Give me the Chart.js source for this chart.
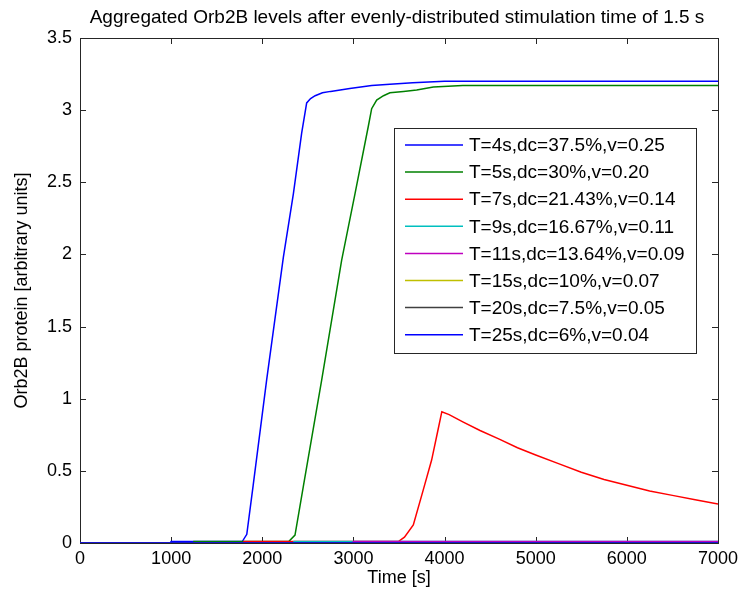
<!DOCTYPE html>
<html>
<head>
<meta charset="utf-8">
<script src="https://cdn.jsdelivr.net/npm/chart.js@4/dist/chart.umd.min.js"></script>
<style>
    body { margin: 0; background: #fff; }
    #orbChart { display: block; }
</style>
</head>
<body>
<canvas id="orbChart" width="738" height="597"></canvas>
<script>
// values
const seriesLabels = [
    "T=4s,dc=37.5%,v=0.25",
    "T=5s,dc=30%,v=0.20",
    "T=7s,dc=21.43%,v=0.14",
    "T=9s,dc=16.67%,v=0.11",
    "T=11s,dc=13.64%,v=0.09",
    "T=15s,dc=10%,v=0.07",
    "T=20s,dc=7.5%,v=0.05",
    "T=25s,dc=6%,v=0.04"
];
const seriesColors = ["#0000ff", "#008000", "#ff0000", "#00bfbf", "#bf00bf", "#bfbf00", "#404040", "#0000ff"];

const timeT4 = [0, 990, 1000, 1780, 1830, 1900, 2048, 2231, 2341, 2432, 2487, 2530, 2580, 2660, 2750, 2960, 3200, 3400, 3650, 4000, 7000];
const valT4  = [0, 0, 0.01, 0.01, 0.06, 0.40, 1.13, 1.98, 2.42, 2.84, 3.05, 3.08, 3.10, 3.12, 3.13, 3.15, 3.17, 3.18, 3.19, 3.20, 3.20];

const timeT5 = [0, 1240, 1250, 2290, 2359, 2450, 2652, 2871, 3017, 3164, 3200, 3255, 3330, 3400, 3550, 3694, 3877, 4200, 7000];
const valT5  = [0, 0, 0.01, 0.01, 0.055, 0.39, 1.13, 1.96, 2.42, 2.89, 3.01, 3.07, 3.10, 3.12, 3.13, 3.14, 3.16, 3.17, 3.17];

const timeT7 = [0, 1790, 1800, 3493, 3560, 3657, 3767, 3858, 3930, 3970, 4050, 4200, 4389, 4600, 4800, 5000, 5250, 5500, 5750, 6000, 6250, 6500, 6750, 7000];
const valT7  = [0, 0, 0.01, 0.01, 0.04, 0.125, 0.37, 0.575, 0.79, 0.91, 0.89, 0.84, 0.78, 0.72, 0.66, 0.61, 0.55, 0.49, 0.44, 0.40, 0.36, 0.33, 0.30, 0.27];

const timeT9 = [0, 2340, 2350, 7000];
const valT9  = [0, 0, 0.01, 0.01];

const timeT11 = [0, 2990, 3000, 7000];
const valT11  = [0, 0, 0.01, 0.01];

const timeFlat = [0, 7000];
const valT15 = [0, 0];
const valT20 = [0, 0];
const valT25 = [0, 0];

const xTicks = [0, 1000, 2000, 3000, 4000, 5000, 6000, 7000];
const yTicks = [0, 0.5, 1, 1.5, 2, 2.5, 3, 3.5];

const FONT = "'Liberation Sans', Arial, sans-serif";

function toPoints(times, vals) {
    return times.map((t, i) => ({ x: t, y: vals[i] }));
}

const seriesData = [
    toPoints(timeT4, valT4),
    toPoints(timeT5, valT5),
    toPoints(timeT7, valT7),
    toPoints(timeT9, valT9),
    toPoints(timeT11, valT11),
    toPoints(timeFlat, valT15),
    toPoints(timeFlat, valT20),
    toPoints(timeFlat, valT25)
];

// box, inward ticks and the in-plot legend, matlab style
const matlabFrame = {
    id: "matlabFrame",
    beforeDatasetsDraw(chart) {
        const ctx = chart.ctx;
        const a = chart.chartArea;
        const xs = chart.scales.x;
        const ys = chart.scales.y;
        ctx.save();
        ctx.strokeStyle = "#262626";
        ctx.lineWidth = 1;
        ctx.strokeRect(a.left + 0.5, a.top + 0.5, a.right - a.left, a.bottom - a.top);
        ctx.beginPath();
        xTicks.forEach(v => {
            const px = Math.round(xs.getPixelForValue(v)) + 0.5;
            ctx.moveTo(px, a.bottom);
            ctx.lineTo(px, a.bottom - 6);
            ctx.moveTo(px, a.top);
            ctx.lineTo(px, a.top + 6);
        });
        yTicks.forEach(v => {
            const py = Math.round(ys.getPixelForValue(v)) + 0.5;
            ctx.moveTo(a.left, py);
            ctx.lineTo(a.left + 6, py);
            ctx.moveTo(a.right, py);
            ctx.lineTo(a.right - 6, py);
        });
        ctx.stroke();
        ctx.restore();
    },
    afterDraw(chart) {
        const ctx = chart.ctx;
        ctx.save();
        // title
        ctx.fillStyle = "#000";
        ctx.font = "19px " + FONT;
        ctx.textAlign = "center";
        ctx.textBaseline = "middle";
        ctx.fillText("Aggregated Orb2B levels after evenly-distributed stimulation time of 1.5 s", 397, 18);

        // legend
        const bx = 394, by = 128, bw = 302, bh = 225;
        ctx.fillStyle = "#fff";
        ctx.fillRect(bx, by, bw, bh);
        ctx.strokeStyle = "#262626";
        ctx.lineWidth = 1;
        ctx.strokeRect(bx + 0.5, by + 0.5, bw, bh);
        ctx.font = "19px " + FONT;
        ctx.textAlign = "left";
        chart.data.datasets.forEach((ds, i) => {
            const y = 145 + i * 27.1;
            ctx.strokeStyle = ds.borderColor;
            ctx.lineWidth = 1.5;
            ctx.beginPath();
            ctx.moveTo(405, y);
            ctx.lineTo(463, y);
            ctx.stroke();
            ctx.fillStyle = "#000";
            ctx.fillText(ds.label, 469, y + 1);
        });
        ctx.restore();
    }
};

new Chart(document.getElementById("orbChart"), {
    type: "line",
    data: {
        datasets: seriesLabels.map((label, i) => ({
            label: label,
            data: seriesData[i],
            borderColor: seriesColors[i],
            backgroundColor: seriesColors[i],
            borderWidth: 1.5,
            pointRadius: 0,
            tension: 0,
            fill: false,
            order: seriesLabels.length - i   // later series drawn on top
        }))
    },
    options: {
        responsive: false,
        animation: false,
        layout: { padding: { left: 0, top: 38, right: 0, bottom: 0 } },
        plugins: {
            legend: { display: false },
            title: { display: false },
            tooltip: { enabled: false }
        },
        scales: {
            x: {
                type: "linear",
                min: 0,
                max: 7000,
                afterBuildTicks: scale => { scale.ticks = xTicks.map(v => ({ value: v })); },
                afterFit: scale => {
                    scale.height = 54;
                    scale.paddingRight = 20;
                },
                grid: { display: false, drawTicks: false },
                border: { display: false },
                ticks: {
                    color: "#000",
                    font: { family: FONT, size: 18 },
                    padding: 5,
                    maxRotation: 0,
                    callback: v => String(v)
                },
                title: {
                    display: true,
                    text: "Time [s]",
                    color: "#000",
                    font: { family: FONT, size: 18 },
                    padding: { top: 0, bottom: 8 }
                }
            },
            y: {
                type: "linear",
                min: 0,
                max: 3.5,
                afterBuildTicks: scale => { scale.ticks = yTicks.map(v => ({ value: v })); },
                afterFit: scale => { scale.width = 80; },
                grid: { display: false, drawTicks: false },
                border: { display: false },
                ticks: {
                    color: "#000",
                    font: { family: FONT, size: 18 },
                    padding: 8,
                    callback: v => String(v)
                },
                title: {
                    display: true,
                    text: "Orb2B protein [arbitrary units]",
                    color: "#000",
                    font: { family: FONT, size: 18 },
                    padding: { top: 11, bottom: 0 }
                }
            }
        }
    },
    plugins: [matlabFrame]
});
</script>
</body>
</html>
